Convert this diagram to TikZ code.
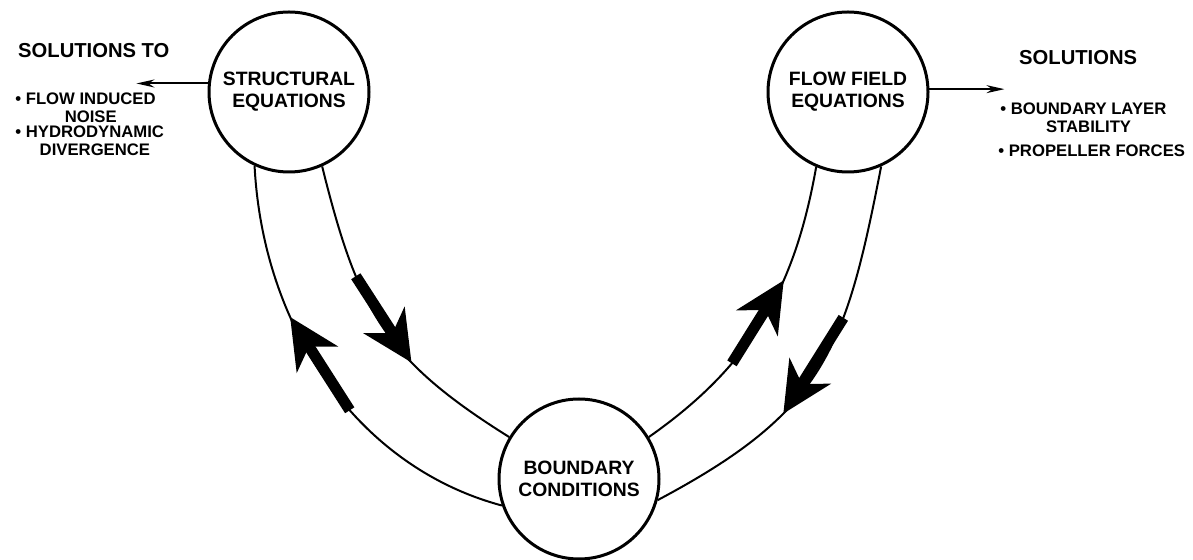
\documentclass[tikz,border=0pt]{standalone}
\usepackage{fontspec}
\setmainfont{Liberation Sans}
\usetikzlibrary{arrows.meta}

\newcommand{\solitem}[1]{\textbullet\ \begin{tabular}[t]{@{}c@{}}#1\end{tabular}}

\begin{document}
\begin{tikzpicture}[
  eqn/.style={draw, circle, line width=0.06cm, minimum size=3.2cm, inner sep=0pt,
    align=center, font=\fontsize{11}{12.5}\selectfont\bfseries},
  hdr/.style={font=\fontsize{11.5}{13}\selectfont\bfseries},
  lst/.style={font=\fontsize{9.5}{10}\selectfont\bfseries, inner sep=0pt},
  band/.style={line width=0.04cm},
  outarr/.style={line width=0.04cm, -{Stealth[length=3.6mm, width=1.6mm]}},
  bigarr/.style={line width=0.22cm, -{Stealth[length=10mm, width=9.6mm, inset=3mm]}},
]
  \useasboundingbox (0,0) rectangle (23.86,11.2);

  % ===== equation circles =====
  \node[eqn] (struct) at (5.78,9.36) {STRUCTURAL\\EQUATIONS};
  \node[eqn] (flow) at (16.96,9.36) {FLOW FIELD\\EQUATIONS};
  \node[eqn] (bnd) at (11.58,1.62) {BOUNDARY\\CONDITIONS};

  % ===== solutions, left =====
  \node[hdr, anchor=west] (solL) at (0.24,10.18) {SOLUTIONS TO};
  \node[lst, anchor=base west] (noise) at (0.30,9.10) {\solitem{FLOW INDUCED\\NOISE}};
  \node[lst, anchor=base west] (diverg) at (0.30,8.44) {\solitem{HYDRODYNAMIC\\DIVERGENCE}};
  \draw[outarr] (struct.174) -- ++(-1.43,0) coordinate (toL);

  % ===== solutions, right =====
  \node[hdr, anchor=west] (solR) at (20.26,10.04) {SOLUTIONS};
  \node[lst, anchor=base west] (stab) at (20.00,8.90) {\solitem{BOUNDARY LAYER\\STABILITY}};
  \node[lst, anchor=base west] (prop) at (19.96,8.06) {\solitem{PROPELLER FORCES}};
  \draw[outarr] (flow.2) -- ++(1.50,0) coordinate (toR);

  % ===== coupling bands =====
  \draw[band] (struct.245) to[out=-87, in=165, in looseness=0.9]
    coordinate[pos=0.33] (a1tip) coordinate[pos=0.58] (a1base) (bnd.199);
  \draw[band] (struct.-66) to[out=-76, in=148, looseness=1.15]
    coordinate[pos=0.31] (a2base) coordinate[pos=0.66] (a2tip) (bnd.149);
  \draw[band] (flow.247) to[out=-100, in=35]
    coordinate[pos=0.35] (a3tip) coordinate[pos=0.67] (a3base) (bnd.31);
  \draw[band] (flow.-66) to[out=-101, in=28, looseness=1.2]
    coordinate[pos=0.34] (a4base) coordinate[pos=0.66] (a4tip) (bnd.-15);

  \draw[bigarr] (a1base) -- (a1tip);
  \draw[bigarr] (a2base) -- (a2tip);
  \draw[bigarr] (a3base) -- (a3tip);
  \draw[bigarr] (a4base) -- (a4tip);
\end{tikzpicture}
\end{document}
